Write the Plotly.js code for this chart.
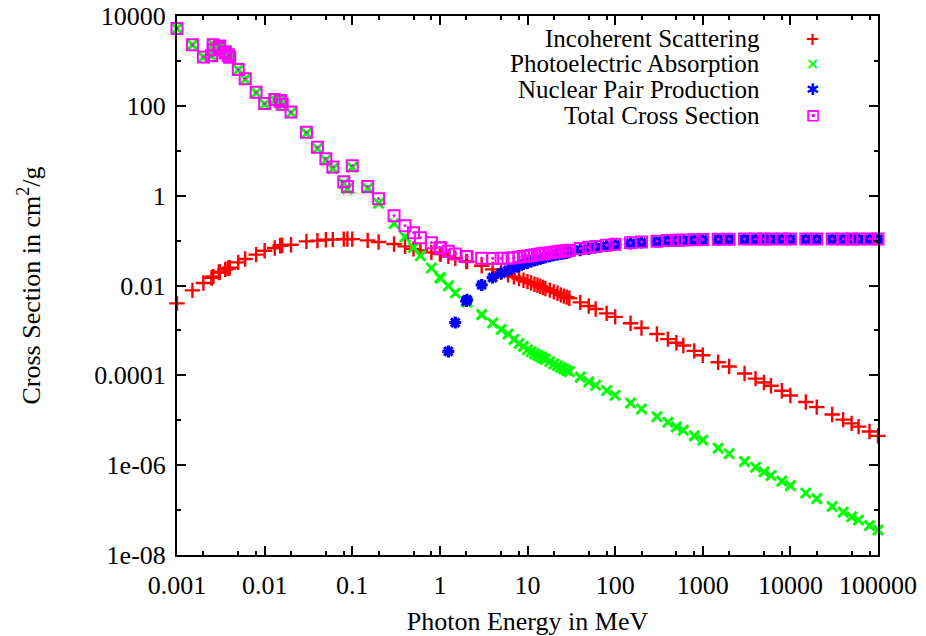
<!DOCTYPE html>
<html>
<head>
<meta charset="utf-8">
<script src="https://cdn.plot.ly/plotly-3.0.1.min.js"></script>
<style>html,body{margin:0;padding:0;background:#fff;}#chart{width:926px;height:636px;}</style>
</head>
<body>
<div id="chart"></div>
<script>
// Photon energy grid (MeV)
const energy = [
  0.001, 0.0015, 0.002, 0.002484, 0.002484, 0.002586, 0.002586, 0.003, 0.003066, 0.003066,
  0.003554, 0.003554, 0.003851, 0.003851, 0.004, 0.005, 0.006, 0.008, 0.01, 0.01304,
  0.015, 0.0152, 0.01586, 0.02, 0.03, 0.04, 0.05, 0.06, 0.08, 0.088,
  0.1, 0.15, 0.2, 0.3, 0.4, 0.5, 0.6, 0.8, 1, 1.022,
  1.25, 1.5, 2, 2.044, 3, 4, 5, 6, 7, 8,
  9, 10, 11, 12, 13, 14, 15, 16, 18, 20,
  22, 24, 26, 28, 30, 40, 50, 60, 80, 100,
  150, 200, 300, 400, 500, 600, 800, 1000, 1500, 2000,
  3000, 4000, 5000, 6000, 8000, 10000, 15000, 20000, 30000, 40000,
  50000, 60000, 80000, 100000
];
// Incoherent scattering (cm^2/g)
const incoherent = [
  0.0040, 0.0078, 0.0114, 0.0148, 0.0148, 0.0158, 0.0158, 0.0195, 0.0200, 0.0200,
  0.0228, 0.0228, 0.0243, 0.0243, 0.0250, 0.0327, 0.0390, 0.0486, 0.0596, 0.0684,
  0.0770, 0.0775, 0.0790, 0.0810, 0.0960, 0.1000, 0.1040, 0.1050, 0.1080, 0.1085,
  0.1080, 0.1010, 0.0930, 0.0840, 0.0745, 0.0655, 0.0605, 0.0546, 0.0510, 0.0500,
  0.0445, 0.0405, 0.0345, 0.0340, 0.0276, 0.0229, 0.0197, 0.0174, 0.0157, 0.0143,
  0.0131, 0.0122, 0.0114, 0.0107, 0.0101, 0.0096, 0.0090, 0.0086, 0.0079, 0.0072,
  0.0067, 0.0062, 0.0058, 0.0055, 0.0052, 0.0042, 0.0035, 0.0030, 0.0024, 0.0020,
  0.00144, 0.00113, 0.00083, 0.00064, 0.00053, 0.00046, 0.00035, 0.00028, 0.000195, 0.000157,
  0.000110, 0.0000845, 0.0000695, 0.0000585, 0.0000455, 0.0000355, 0.0000255, 0.0000196, 0.0000134, 0.0000103,
  0.0000085, 0.0000072, 0.0000056, 0.0000045
];
// Photoelectric absorption (cm^2/g)
const photoelectric = [
  5280, 2280, 1215, 1290, 1300, 1765, 2285, 1965, 1865, 2135,
  1490, 1590, 1300, 1360, 1190, 632, 395, 196, 109, 135,
  120, 128, 104, 70, 24.4, 11.2, 6.2, 4.0, 1.85, 1.42,
  4.3, 1.45, 0.68, 0.24, 0.12, 0.070, 0.046, 0.0245, 0.0151, 0.0145,
  0.0098, 0.0068, 0.0044, 0.0043, 0.00224, 0.00146, 0.00105, 0.00083, 0.00063, 0.00051,
  0.00044, 0.00037, 0.000335, 0.000305, 0.00028, 0.00026, 0.000242, 0.000226, 0.0002, 0.00018,
  0.000163, 0.00015, 0.000138, 0.000128, 0.00012, 0.000091, 0.000072, 0.00006, 0.000046, 0.000036,
  0.0000242, 0.0000178, 0.000012, 0.000009, 0.0000071, 0.000006, 0.0000045, 0.0000036, 0.0000024, 0.0000018,
  0.0000012, 0.0000009, 0.00000071, 0.00000059, 0.00000044, 0.00000035, 0.00000024, 0.00000018, 0.00000012, 0.00000009,
  0.000000071, 0.00000006, 0.000000045, 0.000000036
];
// Nuclear pair production (cm^2/g); none below threshold
const pairNuclear = [
  null, null, null, null, null, null, null, null, null, null,
  null, null, null, null, null, null, null, null, null, null,
  null, null, null, null, null, null, null, null, null, null,
  null, null, null, null, null, null, null, null, null, null,
  0.00034, 0.0015, 0.0045, 0.0048, 0.0103, 0.0150, 0.0188, 0.0217, 0.0247, 0.0275,
  0.0300, 0.0323, 0.0344, 0.0363, 0.0380, 0.0396, 0.0410, 0.0424, 0.0448, 0.0470,
  0.0488, 0.0503, 0.0517, 0.0530, 0.0550, 0.0610, 0.0660, 0.0700, 0.0755, 0.0800,
  0.0865, 0.0905, 0.0950, 0.0980, 0.0998, 0.1010, 0.1030, 0.1040, 0.1055, 0.1060,
  0.1064, 0.1066, 0.1067, 0.1067, 0.1068, 0.1068, 0.1068, 0.1068, 0.1069, 0.1069,
  0.1069, 0.1069, 0.1069, 0.1069
];
// Total cross section (cm^2/g)
const total = [
  5300, 2300, 1230, 1305, 1312, 1780, 2300, 1980, 1880, 2150,
  1500, 1600, 1310, 1370, 1200, 640, 400, 200, 112, 138,
  126, 132, 108, 73, 25.7, 11.9, 6.67, 4.36, 2.05, 1.59,
  4.66, 1.60, 0.857, 0.359, 0.215, 0.150, 0.116, 0.0898, 0.0695, 0.068,
  0.058, 0.050, 0.0442, 0.0438, 0.0406, 0.0400, 0.0402, 0.0406, 0.0416, 0.0429,
  0.0441, 0.0455, 0.0468, 0.0480, 0.0491, 0.0503, 0.0510, 0.0520, 0.0537, 0.0553,
  0.0566, 0.0576, 0.0585, 0.0595, 0.0612, 0.0663, 0.0706, 0.0741, 0.0789, 0.0831,
  0.0892, 0.0929, 0.0971, 0.0999, 0.1016, 0.1028, 0.1047, 0.1056, 0.1070, 0.1075,
  0.1079, 0.1080, 0.1081, 0.1081, 0.1082, 0.1082, 0.1082, 0.1082, 0.1083, 0.1083,
  0.1083, 0.1083, 0.1083, 0.1083
];

const seriesNames = ["Incoherent Scattering", "Photoelectric Absorption", "Nuclear Pair Production", "Total Cross Section"];
const seriesColors = ["#ff0000", "#00ff00", "#0000ff", "#ff00ff"];
const legendGlyphs = ["+", "\u00d7", "\u2731", "\u22a1"];

const xTickVals = [0.001, 0.01, 0.1, 1, 10, 100, 1000, 10000, 100000];
const xTickText = ["0.001", "0.01", "0.1", "1", "10", "100", "1000", "10000", "100000"];
const yTickVals = [1e-8, 1e-6, 1e-4, 1e-2, 1, 100, 10000];
const yTickText = ["1e-08", "1e-06", "0.0001", "0.01", "1", "100", "10000"];
const yMinorVals = [1e-7, 1e-5, 1e-3, 1e-1, 10, 1000];
const xMinorVals = [];
for (let d = -3; d < 5; d++) { [2, 5, 8].forEach(m => xMinorVals.push(m * Math.pow(10, d))); }

const FONT = "Liberation Serif, Times New Roman, serif";

const symbols = ["cross-thin-open", "x-thin-open", "asterisk-open", "square-open-dot"];
const sizes = [11, 10, 10, 11];
const widths = [2.4, 3, 3.2, 2];
const ys = [incoherent, photoelectric, pairNuclear, total];

const traces = ys.map((y, i) => ({
  type: "scatter",
  mode: "markers",
  x: energy,
  y: y,
  name: seriesNames[i],
  cliponaxis: false,
  marker: {
    symbol: symbols[i],
    size: sizes[i],
    color: seriesColors[i],
    line: {color: seriesColors[i], width: widths[i]}
  },
  showlegend: false,
  hoverinfo: "x+y+name"
}));

const legendRowsY = [0.959, 0.912, 0.864, 0.816];
const annotations = [];
seriesNames.forEach((n, i) => {
  annotations.push({
    xref: "paper", yref: "paper", x: 0.8345, y: legendRowsY[i],
    xanchor: "right", yanchor: "middle", showarrow: false,
    text: n, font: {family: FONT, size: 25, color: "#000"}
  });
  annotations.push({
    xref: "paper", yref: "paper", x: 0.907, y: legendRowsY[i],
    xanchor: "center", yanchor: "middle", showarrow: false,
    text: "<b>" + legendGlyphs[i] + "</b>",
    font: {family: "DejaVu Sans", size: i === 0 ? 18 : (i === 3 ? 17 : 16), color: seriesColors[i]}
  });
});

const axisCommon = {
  type: "log",
  showline: true, linecolor: "#000", linewidth: 2,
  mirror: "allticks",
  ticks: "inside", ticklen: 9, tickwidth: 2, tickcolor: "#000",
  showgrid: false, zeroline: false,
  tickmode: "array",
  tickfont: {family: FONT, size: 26, color: "#000"}
};

const layout = {
  width: 926, height: 636,
  margin: {l: 177, r: 48, t: 16, b: 81},
  paper_bgcolor: "#fff", plot_bgcolor: "#fff",
  showlegend: false,
  xaxis: Object.assign({}, axisCommon, {
    range: [-3, 5],
    tickvals: xTickVals, ticktext: xTickText,
    ticklabelstandoff: 6,
    minor: {tickmode: "array", tickvals: xMinorVals, ticks: "inside", ticklen: 4, tickwidth: 2, tickcolor: "#000", showgrid: false},
    title: {text: "Photon Energy in MeV", font: {family: FONT, size: 26, color: "#000"}, standoff: 14}
  }),
  yaxis: Object.assign({}, axisCommon, {
    range: [-8, 4],
    tickvals: yTickVals, ticktext: yTickText,
    ticklabelstandoff: 4,
    minor: {tickmode: "array", tickvals: yMinorVals, ticks: "inside", ticklen: 4, tickwidth: 2, tickcolor: "#000", showgrid: false},
    title: {text: "Cross Section in cm<sup>2</sup>/g", font: {family: FONT, size: 26, color: "#000"}, standoff: 46}
  }),
  annotations: annotations
};

Plotly.newPlot("chart", traces, layout, {staticPlot: true, displayModeBar: false});
</script>
</body>
</html>
